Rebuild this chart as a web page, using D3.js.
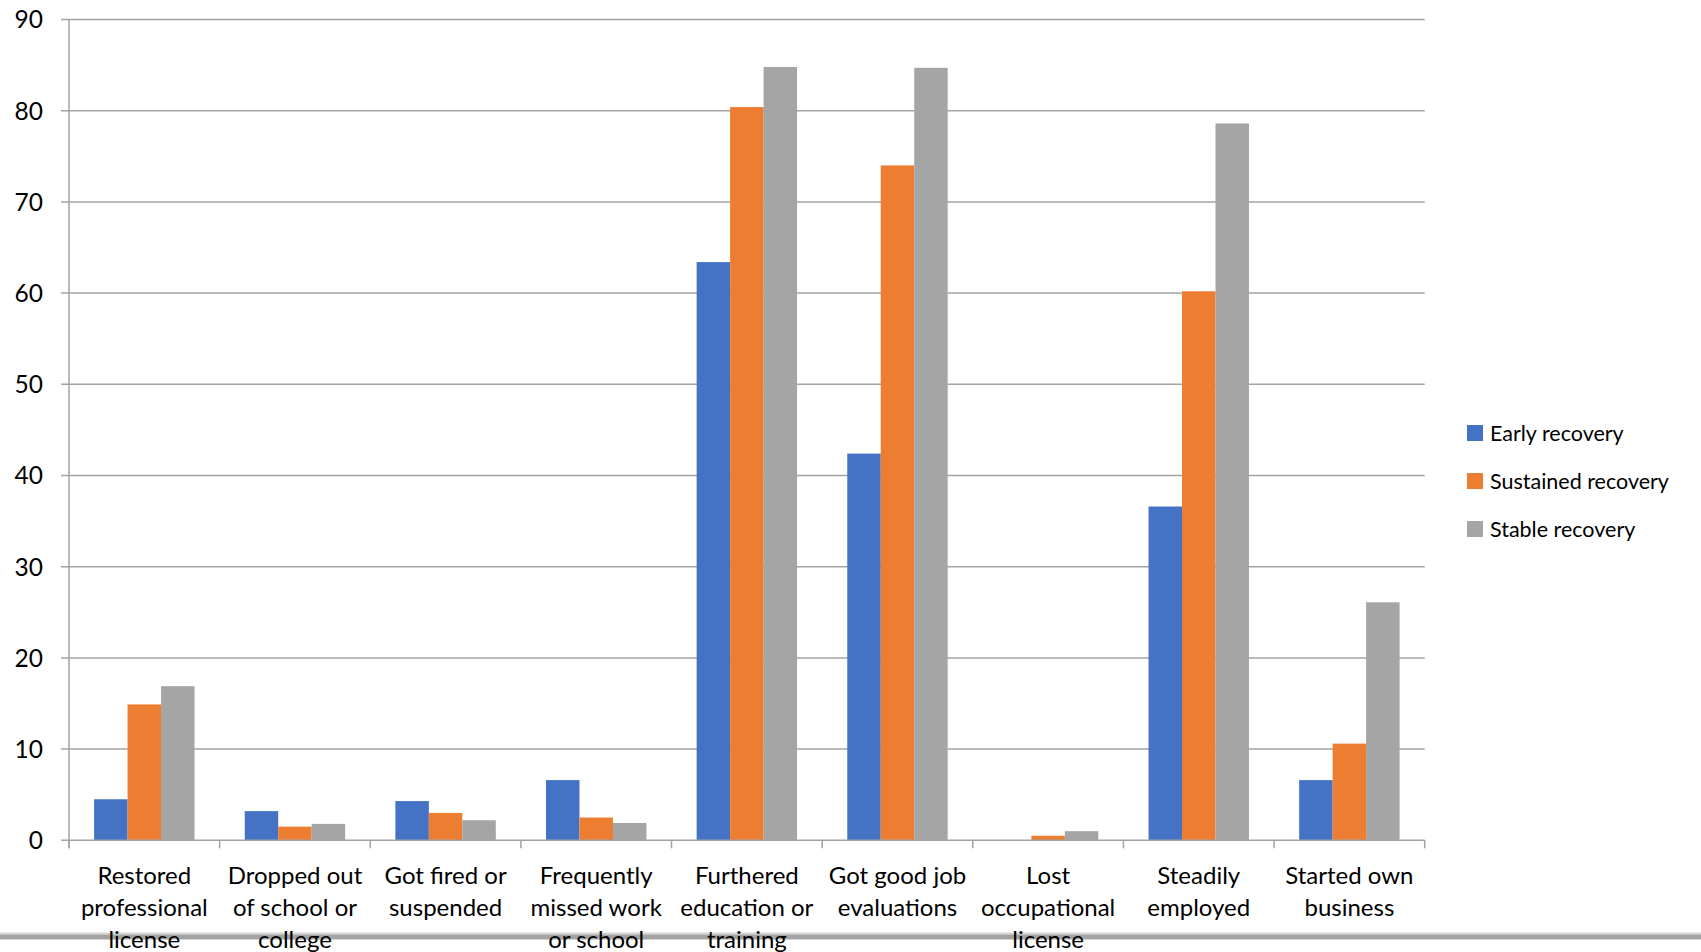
<!DOCTYPE html>
<html>
<head>
<meta charset="utf-8">
<script src="https://cdn.jsdelivr.net/npm/d3@7"></script>
<style>
  html, body { margin: 0; padding: 0; background: #fff; }
  svg { display: block; font-family: Lato, "Open Sans", sans-serif; }
</style>
</head>
<body>
<svg id="chart" width="1701" height="952"></svg>
<script>
// Outcome categories (each label split into wrapped lines)
const categories = [
  ["Restored", "professional", "license"],
  ["Dropped out", "of school or", "college"],
  ["Got fired or", "suspended"],
  ["Frequently", "missed work", "or school"],
  ["Furthered", "education or", "training"],
  ["Got good job", "evaluations"],
  ["Lost", "occupational", "license"],
  ["Steadily", "employed"],
  ["Started own", "business"]
];

const seriesNames = ["Early recovery", "Sustained recovery", "Stable recovery"];
const seriesColors = ["#4472C4", "#ED7D31", "#A5A5A5"];

// Percentages per category for each recovery stage
const earlyRecovery     = [4.5, 3.2, 4.3, 6.6, 63.4, 42.4, 0, 36.6, 6.6];
const sustainedRecovery = [14.9, 1.5, 3.0, 2.5, 80.4, 74.0, 0.5, 60.2, 10.6];
const stableRecovery    = [16.9, 1.8, 2.2, 1.9, 84.8, 84.7, 1.0, 78.6, 26.1];

const yTicks = [0, 10, 20, 30, 40, 50, 60, 70, 80, 90];

const series = [earlyRecovery, sustainedRecovery, stableRecovery];

const svg = d3.select("#chart");
const plotLeft = 69, plotRight = 1424.7, plotTop = 19.5, plotBottom = 840.3;

const x = d3.scaleBand()
  .domain(d3.range(categories.length))
  .range([plotLeft, plotRight])
  .paddingInner(0)
  .paddingOuter(0);

// gap of 150% of a bar width: 3 bars + 1.5 bar gap per category
const barW = x.bandwidth() / 4.5;
const xInner = d3.scaleBand()
  .domain(d3.range(series.length))
  .range([barW * 0.75, barW * 0.75 + barW * 3]);

const y = d3.scaleLinear().domain([0, 90]).range([plotBottom, plotTop]);

const gridColor = "#a3a3a3";
const textColor = "#000";

// horizontal gridlines
svg.append("g")
  .selectAll("line")
  .data(yTicks.filter(d => d > 0))
  .join("line")
  .attr("x1", plotLeft - 8).attr("x2", plotRight)
  .attr("y1", d => y(d)).attr("y2", d => y(d))
  .attr("stroke", gridColor).attr("stroke-width", 1.5);

// bars
const groups = svg.append("g")
  .selectAll("g")
  .data(categories.map((c, i) => i))
  .join("g")
  .attr("transform", i => `translate(${x(i)},0)`);

groups.selectAll("rect")
  .data(i => series.map((s, k) => ({ k, v: s[i] })))
  .join("rect")
  .attr("x", d => xInner(d.k))
  .attr("width", xInner.bandwidth())
  .attr("y", d => y(d.v))
  .attr("height", d => y(0) - y(d.v))
  .attr("fill", d => seriesColors[d.k]);

// y axis line and zero line
svg.append("line")
  .attr("x1", plotLeft).attr("x2", plotLeft)
  .attr("y1", plotTop).attr("y2", plotBottom + 8)
  .attr("stroke", gridColor).attr("stroke-width", 1.5);
svg.append("line")
  .attr("x1", plotLeft - 8).attr("x2", plotRight)
  .attr("y1", y(0)).attr("y2", y(0))
  .attr("stroke", gridColor).attr("stroke-width", 1.5);

// category boundary ticks
svg.append("g")
  .selectAll("line")
  .data(d3.range(categories.length + 1))
  .join("line")
  .attr("x1", i => plotLeft + i * x.bandwidth())
  .attr("x2", i => plotLeft + i * x.bandwidth())
  .attr("y1", plotBottom).attr("y2", plotBottom + 8)
  .attr("stroke", gridColor).attr("stroke-width", 1.5);

// y tick labels
svg.append("g")
  .selectAll("text")
  .data(yTicks)
  .join("text")
  .attr("x", 43)
  .attr("y", d => y(d))
  .attr("dy", "0.36em")
  .attr("text-anchor", "end")
  .attr("font-size", 24.5)
  .attr("fill", textColor)
  .text(d => d);

// bottom rule
svg.append("rect").attr("x", 0).attr("y", 932.5).attr("width", 1701).attr("height", 2).attr("fill", "#d4d4d4");
svg.append("rect").attr("x", 0).attr("y", 934.5).attr("width", 1701).attr("height", 5).attr("fill", "#a3a3a3");

// category labels
const labels = svg.append("g")
  .selectAll("text")
  .data(categories)
  .join("text")
  .attr("text-anchor", "middle")
  .attr("font-size", 24)
  .attr("fill", textColor)
  .attr("transform", (d, i) => `translate(${x(i) + x.bandwidth() / 2},884)`);
labels.selectAll("tspan")
  .data(d => d)
  .join("tspan")
  .attr("x", 0)
  .attr("y", (d, j) => j * 32)
  .text(d => d);

// legend
const legend = svg.append("g")
  .selectAll("g")
  .data(seriesNames)
  .join("g")
  .attr("transform", (d, i) => `translate(1467,${433 + i * 48})`);
legend.append("rect")
  .attr("x", 0).attr("y", -8).attr("width", 16).attr("height", 16)
  .attr("fill", (d, i) => seriesColors[i]);
legend.append("text")
  .attr("x", 23).attr("y", 0).attr("dy", "0.36em")
  .attr("font-size", 21.5)
  .attr("fill", textColor)
  .text(d => d);
</script>
</body>
</html>
